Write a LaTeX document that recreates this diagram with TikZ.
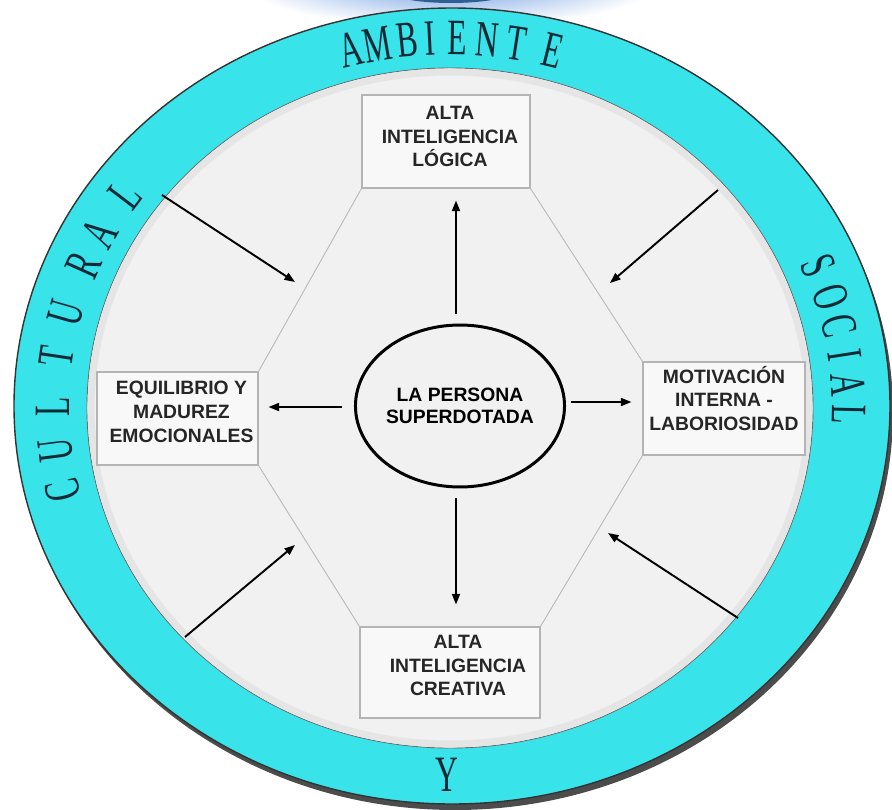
\documentclass[tikz,border=0pt]{standalone}
\usepackage{fontspec}
\setmainfont{Liberation Sans}
\newfontfamily\ringfont[FakeStretch=0.62]{Liberation Serif}
\usetikzlibrary{positioning,arrows.meta,shapes.geometric}
\definecolor{ringCyan}{HTML}{38E3E9}
\definecolor{ringInk}{HTML}{0F2A36}
\definecolor{coreFill}{HTML}{F1F1F1}
\definecolor{cardEdge}{HTML}{B4B4B4}
\definecolor{hexLine}{HTML}{B8B8B8}
\definecolor{topBlue}{HTML}{6A9AE0}
\definecolor{topBlueDark}{HTML}{2E5E92}

\begin{document}
\begin{tikzpicture}[x=0.02cm, y=0.02cm,
  card/.style={draw=cardEdge, fill=coreFill!50!white, line width=0.6pt, inner sep=0pt},
  cardtext/.style={font=\fontsize{11}{13.6}\selectfont\bfseries, text=black!85, align=center},
  persona/.style={ellipse, draw=black, line width=1.7pt, fill=coreFill, inner sep=0pt,
    minimum width=3.52cm, minimum height=3.24cm, align=center,
    font=\fontsize{11}{12.8}\selectfont\bfseries},
  arr/.style={-{Triangle[length=6pt,width=4.5pt]}, line width=1.1pt, black},
  hexedge/.style={draw=hexLine, line width=0.5pt},
  ringletter/.style={font=\ringfont\fontsize{29}{29}\selectfont, text=ringInk, inner sep=0pt}
]
  \useasboundingbox (-451,-402) rectangle (441,407);
  \fill[white] (-451,-402) rectangle (441,407);

  % glow at the top edge
  \shade[inner color=topBlue, outer color=white] (0,425) ellipse (210 and 45);
  \fill[topBlueDark] (0,420) ellipse (70 and 16);

  % ring
  \fill[black!70] (4,-5) ellipse (438 and 398);
  \filldraw[fill=ringCyan, draw=black!80, line width=0.8pt] (1,1) ellipse (438 and 398);
  \filldraw[fill=coreFill, draw=black!60, line width=0.5pt] (-1,-1) ellipse (363 and 340);
  \draw[black!10, line width=4pt] (-1,-1) ellipse (359 and 336);

  % ring letters
  \foreach \t/\ch [count=\i] in {104.6/A,100.7/M,96.3/B,93.0/I,89.1/E,84.8/N,80.5/T,75.2/E,
      22.6/S,17.3/O,12.8/C,8.1/I,3.4/A,-1.2/L,
      193/C,186.7/U,180/L,172.2/T,165.2/U,157.4/R,151.9/A,144.9/L}{
    \pgfmathsetmacro\tilt{atan2(-369*cos(\t),400*sin(\t))}
    \node[ringletter, rotate=\tilt] (letter\i) at (\t:398 and 369) {\ch};
  }
  \node[ringletter] (letterY) at (-4,-368) {Y};

  % boxes
  \node[card, minimum width=3.36cm, minimum height=1.86cm] (logica) at (-5,265.5) {};
  \node[card, minimum width=3.22cm, minimum height=1.86cm] (equilibrio) at (-273.5,-11.5) {};
  \node[card, minimum width=3.24cm, minimum height=1.86cm] (motivacion) at (273,-1.5) {};
  \node[card, minimum width=3.60cm, minimum height=1.82cm] (creativa) at (-1,-265.5) {};

  \node[cardtext] (logicatext) at ([xshift=0.08cm,yshift=0.1cm]logica.center) {ALTA\\INTELIGENCIA\\LÓGICA};
  \node[cardtext] (equilibriotext) at ([xshift=0.08cm,yshift=0.14cm]equilibrio.center) {EQUILIBRIO Y\\MADUREZ\\EMOCIONALES};
  \node[cardtext] (motivaciontext) at ([yshift=0.2cm]motivacion.center) {MOTIVACIÓN\\INTERNA -\\LABORIOSIDAD};
  \node[cardtext] (creativatext) at ([xshift=0.16cm,yshift=0.14cm]creativa.center) {ALTA\\INTELIGENCIA\\CREATIVA};

  % hexagon
  \draw[hexedge] (logica.south west) -- (equilibrio.north east);
  \draw[hexedge] (logica.south east) -- (motivacion.north west);
  \draw[hexedge] (equilibrio.south east) -- (creativa.north west);
  \draw[hexedge] (motivacion.south west) -- (creativa.north east);

  % centre
  \node[persona] (persona) at (9,1) {LA PERSONA\\SUPERDOTADA};

  \draw[arr, shorten <=0.2cm, shorten >=0.24cm] ([xshift=-0.08cm]persona.north) -- ([xshift=-0.08cm]persona.north |- logica.south);
  \draw[arr, shorten <=0.2cm, shorten >=0.44cm] ([xshift=-0.08cm]persona.south) -- ([xshift=-0.08cm]persona.south |- creativa.north);
  \draw[arr, shorten <=0.24cm, shorten >=0.2cm] ([yshift=-0.02cm]persona.west) -- ([yshift=-0.02cm]persona.west -| equilibrio.east);
  \draw[arr, shorten <=0.1cm, shorten >=0.22cm] ([yshift=0.08cm]persona.east) -- ([yshift=0.08cm]persona.east -| motivacion.west);

  % influences from the ring
  \coordinate (nwtail) at (-289,212);
  \coordinate (nwhead) at (-156,125);
  \coordinate (netail) at (267,217);
  \coordinate (nehead) at (159,124);
  \coordinate (swtail) at (-266,-230);
  \coordinate (swhead) at (-156,-138);
  \coordinate (setail) at (287,-211);
  \coordinate (sehead) at (157,-126);

  \draw[arr] (nwtail) -- (nwhead);
  \draw[arr] (netail) -- (nehead);
  \draw[arr] (swtail) -- (swhead);
  \draw[arr] (setail) -- (sehead);
\end{tikzpicture}
\end{document}
